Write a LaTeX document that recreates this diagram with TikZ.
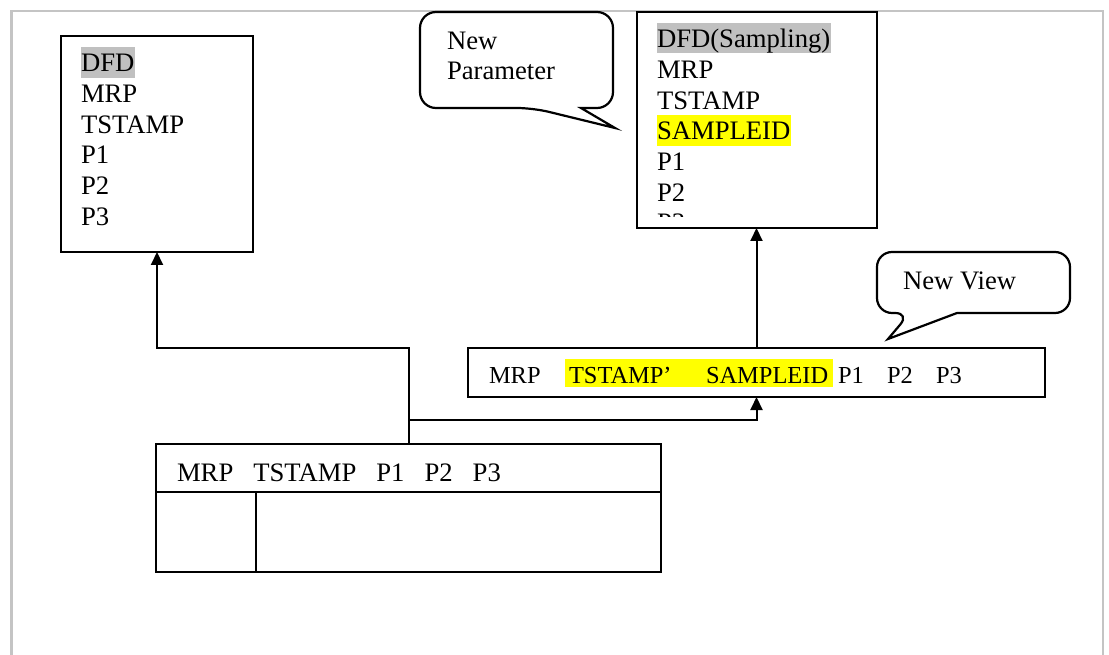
\documentclass[tikz,border=0pt]{standalone}
\usepackage{fontspec}
\setmainfont{Liberation Serif}
\usetikzlibrary{arrows.meta}
\definecolor{hlgray}{HTML}{C0C0C0}
\definecolor{hlyellow}{HTML}{FFFF00}
\definecolor{framegray}{HTML}{C4C4C4}
\begin{document}
\begin{tikzpicture}[x=1pt,y=-1pt,
  box/.style={draw=black,line width=2.2pt,inner sep=0pt,outer sep=0pt},
  boxline/.style={draw=black,line width=2.2pt},
  txt/.style={anchor=base west,inner sep=0pt,outer sep=0pt,font=\fontsize{26.67}{30.67}\selectfont},
  midtxt/.style={anchor=base west,inner sep=0pt,outer sep=0pt,font=\fontsize{24.44}{28}\selectfont},
  conn/.style={draw=black,line width=2pt,-{Triangle[length=13pt,width=12pt]}},
  callout/.style={draw=black,line width=2.2pt,fill=white},
]
\useasboundingbox (0,0) rectangle (1109,655);
% outer frame
\draw[framegray,line width=2.2pt] (11.5,655) -- (11.5,11) -- (1103,11) -- (1103,655);

% ---------- left box ----------
\node[box,minimum width=192pt,minimum height=216pt] (lb) at (157,144) {};
\fill[hlgray] (81,47) rectangle (135,78);
\node[txt] (l1) at (81,72) {DFD};
\node[txt] (l2) at (81,102.7) {MRP};
\node[txt] (l3) at (81,133.3) {TSTAMP};
\node[txt] (l4) at (81,164) {P1};
\node[txt] (l5) at (81,194.7) {P2};
\node[txt] (l6) at (81,225.3) {P3};

% ---------- right box ----------
\node[box,minimum width=240pt,minimum height=216pt] (rb) at (757,120) {};
\fill[hlgray] (657,23) rectangle (831,53);
\fill[hlyellow] (657,115) rectangle (791,146);
\node[txt] (r1) at (657,48) {DFD(Sampling)};
\node[txt] (r2) at (657,78.7) {MRP};
\node[txt] (r3) at (657,109.3) {TSTAMP};
\node[txt] (r4) at (657,140) {SAMPLEID};
\node[txt] (r5) at (657,170.7) {P1};
\node[txt] (r6) at (657,201.3) {P2};
\begin{scope}
  \clip (640,205) rectangle (870,217);
  \node[txt] (r7) at (657,232) {P3};
\end{scope}

% ---------- middle box ----------
\node[box,minimum width=577pt,minimum height=49pt] (mid) at (756.5,372.5) {};
\fill[hlyellow] (565,359) rectangle (833,387);
\node[midtxt] (m1) at (489,383.5) {MRP};
\node[midtxt] (m2) at (569,383.5) {TSTAMP’};
\node[midtxt] (m3) at (706,383.5) {SAMPLEID};
\node[midtxt] (m4) at (838,383.5) {P1};
\node[midtxt] (m5) at (887,383.5) {P2};
\node[midtxt] (m6) at (936,383.5) {P3};

% ---------- bottom box ----------
\node[box,minimum width=505pt,minimum height=128pt] (bb) at (408.5,508) {};
\draw[boxline] (156,492) -- (661,492);
\draw[boxline] (256,492) -- (256,572);
\node[txt] (b1) at (177,481) {MRP\ \ \ TSTAMP\ \ \ P1\ \ \ P2\ \ \ P3};

% ---------- connectors ----------
\coordinate (j1) at (408.5,348);
\coordinate (j2) at (408.5,420);
\draw[conn] (bb.north) -- (j1) -| (lb.south);
\draw[conn] (j2) -| (mid.south);
\draw[conn] (mid.north) -- (mid.north |- rb.south);

% ---------- callouts ----------
\draw[callout] (581,108) [rounded corners=16pt] -- (613,108) -- (613,12) -- (420,12) -- (420,108) -- (533,108) [sharp corners] -- (615,128) -- cycle;
\node[txt] (c1a) at (447,50) {New};
\node[txt] (c1b) at (447,80) {Parameter};

\draw[callout] (957,313) [rounded corners=15pt] -- (1070,313) -- (1070,252) -- (877,252) -- (877,313) -- (910,313) [sharp corners] -- (888,339) -- cycle;
\node[txt] (c2) at (903,290) {New View};
\end{tikzpicture}
\end{document}
